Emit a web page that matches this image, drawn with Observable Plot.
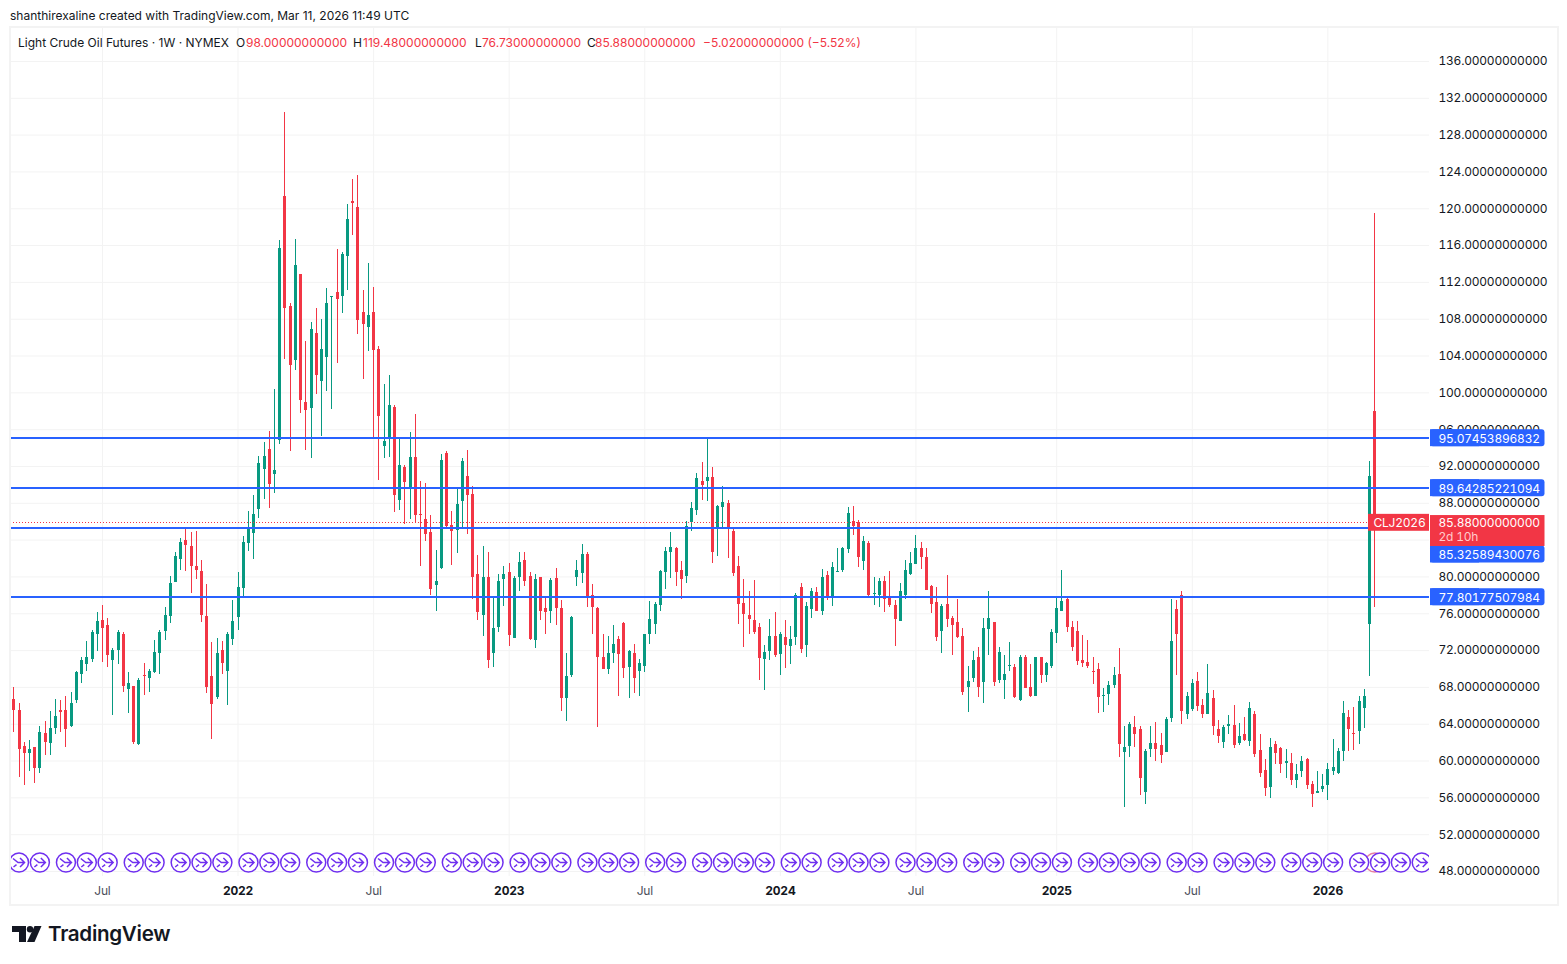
<!DOCTYPE html>
<html><head><meta charset="utf-8">
<script src="https://cdn.jsdelivr.net/npm/d3@7"></script>
<script src="https://cdn.jsdelivr.net/npm/@observablehq/plot@0.6"></script>
<style>
html,body{margin:0;padding:0;background:#fff;width:1567px;height:964px;overflow:hidden}
#page{position:relative;width:1567px;height:964px;font-family:Inter,sans-serif;color:#131722}
#page>*{position:absolute}
#chart{left:0;top:27px}
#frame{left:9px;top:26px;width:1546px;height:876px;border:2px solid #f3f3f3;pointer-events:none}
#credit{left:10px;top:8px;font-size:12px;line-height:15px;white-space:nowrap}
.leg{top:35px;font-size:12px;line-height:15px;white-space:nowrap}
.r{color:#F23645}
#logotext{left:48px;top:920px;font-size:20.6px;line-height:28px;font-weight:600;letter-spacing:-.3px;color:#131722}
#chart text{letter-spacing:-.22px;font-variant-numeric:tabular-nums}
</style></head>
<body><div id="page">
<div id="chart"></div>
<div id="frame"></div>
<div id="credit">shanthirexaline created with TradingView.com, Mar 11, 2026 11:49 UTC</div>
<div class="leg" style="left:18px">Light Crude Oil Futures · 1W · NYMEX</div>
<div class="leg" style="left:236px">O</div><div class="leg r" style="left:246px">98.00000000000</div>
<div class="leg" style="left:353px">H</div><div class="leg r" style="left:363px">119.48000000000</div>
<div class="leg" style="left:475px">L</div><div class="leg r" style="left:482px">76.73000000000</div>
<div class="leg" style="left:587px">C</div><div class="leg r" style="left:595px">85.88000000000</div>
<div class="leg r" style="left:703px">−5.02000000000 (−5.52%)</div>
<svg style="left:12px;top:926px" width="30" height="16" viewBox="0 0 30 16"><path fill="#131722" d="M0 0H14V16H7V6H0Z"/><circle cx="18" cy="3.2" r="3.2" fill="#131722"/><path fill="#131722" d="M22.5 0H29.5L22.5 16H15Z"/></svg>
<div id="logotext">TradingView</div>
</div>
<script>
// weekly candles, each row is open, high, low, close
const ohlc2021 = [
[66.7,68.0,63.1,65.5],[65.5,66.3,58.2,61.3],[61.6,62.0,57.3,60.8],[60.8,62.2,58.9,61.3],[61.5,61.5,57.6,59.2],
[59.2,63.8,58.7,63.1],[63.0,64.3,60.6,62.0],[61.9,65.4,60.6,63.5],[63.5,66.7,62.9,64.8],[65.5,66.6,63.1,65.3],
[65.5,67.0,61.5,63.4],[63.7,67.4,63.6,66.2],[66.6,69.7,66.3,69.6],[69.4,71.2,68.4,70.9],[70.5,73.0,69.7,71.2],
[71.0,74.2,70.7,74.0],[73.8,76.1,71.9,75.2],[75.3,76.9,70.7,74.4],[74.7,75.5,70.2,71.5],[70.9,72.2,64.9,72.0],
[72.0,74.2,70.5,74.0],[73.8,74.0,67.5,68.1],[67.8,69.6,65.2,68.4],[68.1,68.1,61.8,62.0],[61.8,69.0,61.7,68.7],
[69.3,70.6,67.1,69.2],[69.0,69.9,67.5,69.7],[69.6,73.1,69.5,71.8],[71.7,74.2,69.4,74.0],[74.1,76.7,73.1,75.8],
[75.7,80.0,74.9,79.3],[79.4,82.7,79.4,82.2],[81.9,84.2,80.7,83.7],[84.0,85.3,80.6,83.4],[83.3,84.8,78.2,81.1],
[81.1,84.9,79.7,80.7],[80.6,81.8,75.0,75.8],[75.7,79.2,67.3,68.0],[69.2,72.9,62.3,66.1],[66.9,73.3,66.7,71.7],
[72.0,73.0,69.4,70.6],[69.7,74.0,66.0,73.7],[73.2,77.4,72.5,75.2]
];
const ohlc2022 = [
[75.6,80.5,74.2,78.8],[78.7,84.4,77.8,83.7],[83.6,87.1,82.8,85.3],[84.7,88.8,81.9,86.8],[87.3,93.1,86.3,92.3],
[91.7,94.6,88.4,93.1],[93.8,95.8,87.4,90.0],[91.1,100.4,89.1,91.6],[94.8,116.5,94.4,115.7],[121.3,130.5,103.6,109.2],
[109.4,109.7,93.6,103.0],[103.5,116.7,102.4,113.8],[112.9,112.9,97.8,99.2],[99.0,105.6,93.7,98.1],[98.3,107.6,92.9,106.9],
[106.4,109.2,99.8,101.9],[101.2,108.0,95.3,104.7],[103.8,111.3,100.2,109.7],[110.4,110.5,98.2,110.5],[110.9,115.6,103.2,110.1],
[110.5,115.2,108.6,115.0],[114.8,120.5,111.1,118.8],[120.8,123.2,117.1,120.6],[120.1,123.6,106.3,107.9],[108.7,111.1,101.4,107.4],
[107.1,114.0,104.5,108.4],[108.7,111.4,95.1,104.6],[104.7,105.0,90.5,97.4],[94.2,100.9,92.9,94.7],[94.9,101.9,93.0,98.6],
[98.4,98.6,87.0,88.8],[88.3,94.9,87.2,92.1],[91.9,92.1,85.7,90.3],[89.6,95.7,86.2,93.0],[93.0,97.6,85.9,86.7],
[86.8,90.4,81.1,86.7],[86.2,90.1,83.8,84.6],[84.8,86.7,78.0,78.6],[79.1,82.9,76.2,79.5],[80.9,93.3,80.8,92.6],
[93.4,93.6,85.1,85.5],[85.6,87.1,81.2,84.9],[85.0,89.7,82.5,87.9],[88.2,92.9,85.1,92.5],[90.9,93.7,84.6,88.8],
[89.0,89.8,77.5,79.9],[80.3,82.3,75.3,76.1],[75.8,83.3,73.5,79.9],[79.9,82.7,70.0,70.9],[71.7,77.7,70.2,74.4],
[74.5,80.3,74.0,79.5],[79.7,81.1,76.8,80.3]
];
const ohlc2023 = [
[80.5,81.5,72.4,73.6],[73.3,80.0,73.3,79.8],[79.9,82.7,78.4,81.6],[81.8,82.7,79.0,79.5],[80.0,80.5,73.1,73.2],
[73.1,80.3,72.2,79.7],[79.9,79.9,75.3,76.3],[76.6,77.7,73.7,76.1],[76.2,79.8,74.9,79.6],[79.8,80.9,74.7,76.6],
[76.6,77.4,65.4,66.8],[66.8,71.7,64.3,69.2],[69.3,75.7,69.1,75.6],[79.9,81.8,79.0,80.7],[80.4,83.5,79.3,82.4],
[82.4,82.7,76.7,77.8],[78.0,79.2,73.8,76.7],[76.6,76.7,63.6,71.2],[71.3,73.8,69.9,69.9],[69.9,73.5,69.4,71.7],
[71.7,74.7,70.6,72.7],[73.2,73.5,67.0,71.6],[74.9,75.0,69.0,70.0],[70.2,72.0,66.8,71.9],[71.7,72.7,67.3,69.0],
[69.7,71.0,67.0,70.6],[70.3,73.8,69.6,73.8],[73.7,77.3,72.7,75.4],[74.8,77.2,73.7,77.0],[76.9,80.7,76.3,80.6],
[80.5,83.2,78.6,82.8],[82.7,84.8,79.8,83.2],[83.1,83.2,79.0,80.5],[80.7,81.7,77.5,79.7],[80.0,86.0,79.3,85.5],
[85.9,88.1,84.9,87.4],[87.2,91.2,86.7,90.7],[90.4,92.4,88.3,89.9],[90.4,95.0,88.2,90.8],[90.8,91.9,81.5,82.7],
[85.2,87.8,82.2,87.7],[87.5,89.8,85.4,88.1],[88.0,88.3,82.0,85.4],[84.9,85.3,80.0,80.4],[81.1,82.2,74.8,77.0],
[77.1,79.7,72.3,75.9],[75.8,78.4,73.7,75.4],[75.3,79.6,73.8,74.0],[74.5,74.9,68.7,71.1],[71.0,72.5,67.7,71.8],
[71.9,75.4,70.9,73.5],[73.5,76.1,71.2,71.5]
];
const ohlc2024 = [
[71.6,74.0,69.3,73.7],[73.4,75.3,70.0,72.5],[72.4,74.6,70.5,73.2],[73.4,78.2,72.5,78.0],[78.8,79.3,71.7,72.1],
[72.5,77.2,71.3,76.8],[76.5,78.7,75.5,78.4],[78.3,78.8,76.2,76.3],[76.2,80.8,75.8,79.9],[80.2,80.6,77.4,77.8],
[77.8,81.6,76.8,81.0],[80.5,83.1,80.5,80.6],[80.7,83.2,80.5,83.1],[83.0,87.5,82.5,86.9],[86.0,87.7,84.5,85.5],
[85.9,86.1,81.0,82.1],[81.7,84.4,80.7,83.8],[83.6,83.8,77.9,78.0],[78.1,79.9,76.9,78.2],[78.0,79.8,76.7,79.5],
[79.5,80.0,76.1,77.5],[77.8,80.6,76.7,76.9],[76.9,77.4,72.4,75.4],[75.2,79.3,75.2,78.4],[78.0,81.8,77.5,80.7],
[80.3,82.7,80.2,81.5],[81.3,84.5,81.3,83.1],[83.1,83.7,80.8,82.1],[82.1,83.1,78.5,78.5],[79.0,79.1,76.0,77.0],
[77.2,78.8,73.0,73.4],[74.1,77.0,71.7,76.8],[77.0,80.2,74.5,75.4],[75.5,75.7,71.5,74.7],[75.0,77.5,73.3,73.4],
[73.5,74.4,67.1,67.5],[68.0,70.3,65.3,68.6],[69.0,71.9,68.5,70.9],[71.2,72.3,66.9,68.0],[68.5,75.5,66.2,74.4],
[74.3,78.4,71.5,75.5],[75.0,75.0,68.1,68.5],[68.7,72.3,68.4,71.8],[68.8,71.5,66.7,69.4],[70.3,72.9,69.7,70.4],
[70.2,70.5,66.8,66.9],[66.6,71.5,66.5,71.2],[71.3,71.5,67.9,67.9],[68.0,70.5,66.9,67.0],[67.0,71.3,67.0,71.2],
[71.3,71.3,68.4,69.3],[69.3,70.7,68.5,70.6],[70.3,74.3,70.0,74.0]
];
const ohlc2025 = [
[73.9,77.9,72.8,76.6],[76.3,80.7,76.3,77.3],[77.5,77.9,74.0,74.5],[74.5,75.2,71.9,72.3],[74.1,75.2,70.4,70.8],
[70.9,73.6,70.2,70.6],[70.7,73.1,70.0,70.3],[69.7,71.2,68.3,69.6],[69.9,70.6,65.2,66.9],[67.0,67.9,65.3,67.1],
[67.2,68.6,66.0,68.2],[68.2,70.2,67.9,69.3],[69.4,72.2,60.4,61.8],[60.9,63.8,55.0,61.5],[61.6,64.2,60.4,64.0],
[63.6,64.8,61.5,62.9],[63.4,63.8,56.3,58.1],[56.6,61.3,55.3,61.0],[61.2,63.8,60.4,61.9],[61.9,64.2,59.9,61.3],
[61.7,63.0,59.7,60.6],[60.9,64.7,60.9,64.5],[64.6,77.5,64.2,73.0],[76.5,77.4,69.3,73.7],[78.0,78.4,64.0,65.4],
[65.1,67.5,64.5,67.0],[65.6,68.9,65.4,68.4],[68.6,69.6,65.4,65.9],[66.0,66.7,64.6,65.1],[65.1,70.5,65.1,67.3],
[66.8,67.7,62.8,63.7],[63.4,64.4,61.9,62.7],[62.0,63.9,61.4,63.6],[63.7,65.0,62.9,64.0],[63.9,66.0,61.4,61.7],
[61.9,64.1,61.7,62.7],[62.9,64.7,62.1,62.2],[62.1,66.4,61.6,65.7],[65.1,65.4,60.4,60.7],[61.1,62.9,58.2,58.7],
[59.0,60.2,56.1,57.0],[57.1,62.5,55.9,61.5],[61.8,62.1,59.6,60.8],[61.4,61.5,58.7,59.6],[59.7,61.2,58.1,60.0],
[59.7,60.8,57.3,57.9],[57.9,59.6,57.0,58.5],[58.9,60.5,58.2,60.0],[60.2,60.3,56.9,57.3],[57.4,57.8,54.9,56.4],
[56.5,58.9,56.5,56.7],[56.9,58.5,56.6,57.2]
];
const ohlc2026 = [
[57.3,59.7,55.7,59.1],[58.9,62.3,58.4,59.3],[58.7,61.4,58.5,61.0],[61.0,66.5,60.0,65.2],[64.7,65.5,61.0,63.4],
[63.0,65.8,61.1,62.9],[63.2,67.0,61.8,66.5],[65.7,67.8,63.5,67.0],[74.8,92.5,69.2,90.9],[98.0,119.48,76.73,85.88]
];
// drawn levels and last price
const levels = [95.07453896832, 89.64285221094, 85.32589430076, 77.80177507984];
const lastClose = 85.88;
const priceTicks = d3.range(48, 137, 4);
// the 84 label lies behind the last-price tag in the reference, so it is not labelled
const priceLabels = priceTicks.filter(d => d !== 84);
const halfYearTicks = ["2021-07-05","2022-07-04","2023-07-03","2024-07-01","2025-07-07"].map(d => new Date(d));
const yearTicks = ["2022-01-03","2023-01-02","2024-01-01","2025-01-06","2026-01-05"].map(d => new Date(d));
// weeks (counted from the first candle) carrying a contract-roll marker
const rollWeeks = [1,5,10,14,18,23,27,32,36,40,45,49,53,58,62,66,71,75,79,84,88,92,97,101,105,110,114,118,123,127,132,136,140,144,149,153,158,162,166,171,175,179,184,188,193,197,201,206,210,214,218,223,227,232,236,240,245,249,253,258,262,266,270];

const WEEK = 7 * 864e5;
const firstWeek = +new Date("2021-03-08");
const weekDate = i => new Date(firstWeek + i * WEEK);
const candles = [...ohlc2021, ...ohlc2022, ...ohlc2023, ...ohlc2024, ...ohlc2025, ...ohlc2026]
  .map(([o, h, l, c], i) => ({date: weekDate(i), o, h, l, c, color: c >= o ? "#089981" : "#F23645"}));
const lastWeek = candles.length - 1;

// price scale tags sit just outside the time domain
const pxPerWeek = 5.2146;
const domainStart = weekDate(-3.3 / pxPerWeek);
const domainEnd = weekDate(lastWeek + 54.7 / pxPerWeek);
const past = px => new Date(+domainEnd + px / pxPerWeek * WEEK);
const tags = [
  {at: 95.0745, text: "95.07453896832"},
  {at: 89.6429, text: "89.64285221094"},
  {at: 82.44, text: "85.32589430076"},
  {at: 77.8018, text: "77.80177507984"}
];
const tagLeft = past(1), tagRight = past(115.5), tagMid = past(50);
const symbolLeft = past(-61);

const rollSymbol = {draw(ctx, size) {
  const r = Math.sqrt(size / Math.PI), s = r / 9.5;
  ctx.moveTo(r, 0); ctx.arc(0, 0, r, 0, 2 * Math.PI); ctx.closePath();
  ctx.moveTo(-6 * s, -4 * s); ctx.lineTo(-1 * s, 0); ctx.lineTo(5.5 * s, 0);
  ctx.moveTo(1 * s, -4.5 * s); ctx.lineTo(5.5 * s, 0); ctx.lineTo(1 * s, 4.5 * s);
  ctx.moveTo(-5.5 * s, 4.5 * s); ctx.lineTo(-2.5 * s, 2.2 * s);
}};

const grid = "#f3f3f3", ink = "#131722", blue = "#2962FF", red = "#F23645";
const chart = Plot.plot({
  width: 1567, height: 878,
  marginLeft: 10, marginRight: 138, marginTop: 0, marginBottom: 29,
  style: {fontFamily: "Inter, sans-serif", fontSize: "12px", background: "transparent", overflow: "visible"},
  x: {type: "utc", domain: [domainStart, domainEnd]},
  y: {domain: [47.457, 139.69]},
  marks: [
    Plot.gridX([...halfYearTicks, ...yearTicks], {stroke: grid, strokeOpacity: 1}),
    Plot.gridY(priceTicks, {stroke: grid, strokeOpacity: 1}),
    Plot.axisX({ticks: halfYearTicks, tickFormat: () => "Jul", tickSize: 0, tickPadding: 10, label: null, fill: "#4a4e59"}),
    Plot.axisX({ticks: yearTicks, tickFormat: d3.utcFormat("%Y"), tickSize: 0, tickPadding: 10, label: null, fontWeight: 700, fill: ink}),
    Plot.axisY({anchor: "right", ticks: priceLabels, tickSize: 0, tickPadding: 9, label: null, fill: ink,
      tickFormat: d => d.toFixed(11)}),
    Plot.dot([weekDate(lastWeek)], {x: d => d, frameAnchor: "bottom", dy: -14, r: 9.5, stroke: "#e77fa0", strokeWidth: 1.4, fill: "none", clip: "frame"}),
    Plot.dot(rollWeeks.map(weekDate), {x: d => d, frameAnchor: "bottom", dy: -14, r: 9.5, symbol: rollSymbol,
      stroke: "#6f2fef", strokeWidth: 1.5, fill: "#fff", clip: "frame"}),
    Plot.ruleX(candles, {x: "date", y1: "l", y2: "h", stroke: "color", strokeWidth: 1, shapeRendering: "crispEdges"}),
    Plot.ruleX(candles, {x: "date", y1: "o", y2: "c", stroke: "color", strokeWidth: 3, shapeRendering: "crispEdges"}),
    Plot.ruleY([lastClose], {stroke: red, strokeDasharray: "1 2", strokeWidth: 1, shapeRendering: "crispEdges"}),
    Plot.ruleY(levels, {stroke: blue, strokeWidth: 2, shapeRendering: "crispEdges"}),
    // price tags
    Plot.rect(tags, {x1: () => tagLeft, x2: () => tagRight, y1: d => d.at - 0.92, y2: d => d.at + 0.92, fill: blue, rx: 3}),
    Plot.rect(tags, {x1: () => tagLeft, x2: () => tagMid, y1: d => d.at - 0.92, y2: d => d.at + 0.92, fill: blue}),
    Plot.text(tags, {x: () => tagLeft, y: "at", text: "text", textAnchor: "start", dx: 8, dy: 0.5, fill: "#fff"}),
    Plot.rect([lastClose], {x1: () => tagLeft, x2: () => tagRight, y1: 86.67, y2: 83.31, fill: red}),
    Plot.rect([lastClose], {x1: () => symbolLeft, x2: () => domainEnd, y1: lastClose - 0.92, y2: lastClose + 0.92, fill: red}),
    Plot.text(["CLJ2026"], {x: () => symbolLeft, y: lastClose, text: d => d, textAnchor: "start", dx: 5, dy: 0.5, fill: "#fff"}),
    Plot.text(["85.88000000000"], {x: () => tagLeft, y: lastClose, text: d => d, textAnchor: "start", dx: 8, dy: 0.5, fill: "#fff"}),
    Plot.text(["2d 10h"], {x: () => tagLeft, y: 84.28, text: d => d, textAnchor: "start", dx: 8, fill: "#fcc"})
  ]
});
document.getElementById("chart").append(chart);
</script>
</body></html>
